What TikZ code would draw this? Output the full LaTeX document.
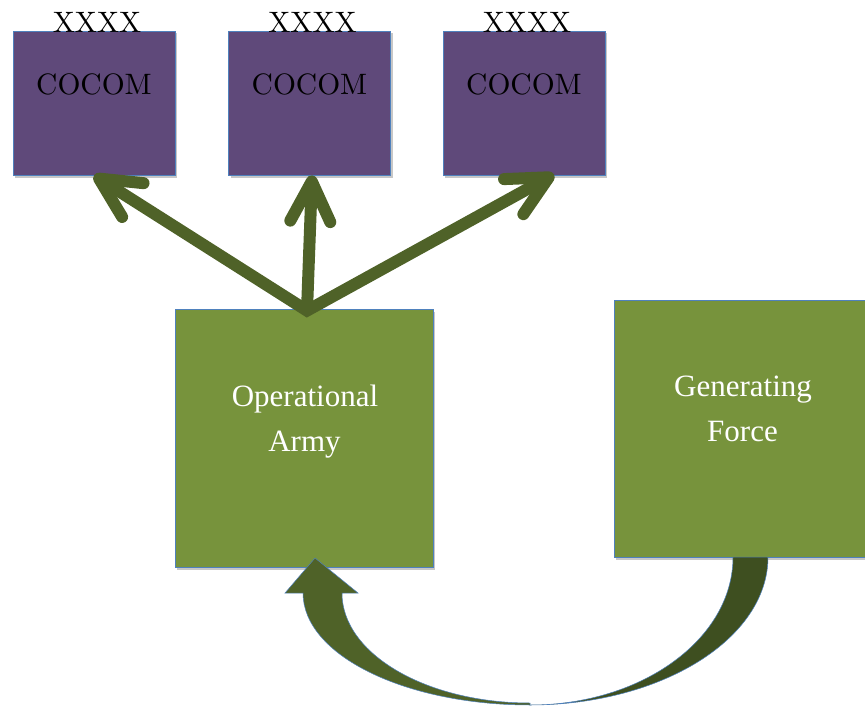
\documentclass[tikz,border=0pt]{standalone}
\usepackage{fontspec}
\newfontfamily\timesfont{Liberation Serif}
\newfontfamily\lmtenfont{lmroman10-regular.otf}
\usetikzlibrary{arrows.meta,calc,shadows}

\definecolor{cocompurple}{HTML}{5F497A}
\definecolor{boxgreen}{HTML}{77933C}
\definecolor{armgreen}{HTML}{4F6228}
\definecolor{backgreen}{HTML}{3E4F20}
\definecolor{edgeblue}{HTML}{4F81BD}

\tikzset{
  boxshadow/.style={drop shadow={shadow xshift=2pt, shadow yshift=-2.5pt, opacity=0.22, fill=black}},
  cocom/.style={rectangle, fill=cocompurple, draw=edgeblue, line width=0.8pt,
    minimum width=162pt, minimum height=144pt, inner sep=0pt, boxshadow},
  forcebox/.style={rectangle, fill=boxgreen, draw=edgeblue, line width=0.8pt,
    minimum height=258pt, inner sep=0pt, boxshadow},
  darktext/.style={font=\lmtenfont\fontsize{29.5}{35}\selectfont, text=black, inner sep=0pt, anchor=base},
  lighttext/.style={font=\timesfont\fontsize{31}{45}\selectfont, text=white, inner sep=0pt, anchor=base},
  barb/.tip={Straight Barb[length=40pt, width=40pt, round]},
  bigarrow/.style={draw=armgreen, line width=12pt, line join=miter},
}

\begin{document}
\begin{tikzpicture}[x=1pt, y=-1pt]
\useasboundingbox (0,0) rectangle (865,709);

% the three combatant commands
\node[cocom] (c1) at (94,103) {};
\node[cocom] (c2) at (309.5,103) {};
\node[cocom] (c3) at (524,103) {};
\foreach \c in {c1,c2,c3}{
  \node[darktext] (\c-x) at ($(\c.north)+(3,2)$) {XXXX};
  \node[darktext] (\c-t) at ($(\c.north)+(0,64)$) {COCOM};
}

% operational army and generating force
\node[forcebox, minimum width=258pt] (oa) at (304,438) {};
\node[lighttext] (oa1) at ($(oa.north)+(1,98)$) {Operational};
\node[lighttext] (oa2) at ($(oa.north)+(0.5,143)$) {Army};

\node[forcebox, minimum width=260pt, minimum height=257pt] (gf) at (744,428.5) {};
\node[lighttext] (gf1) at ($(gf.north)+(-1,97)$) {Generating};
\node[lighttext] (gf2) at ($(gf.north)+(-1.5,142)$) {Force};

% fan of arrows from the operational army to the commands
\coordinate (apex) at ($(oa.north)+(3,2)$);
\coordinate (c3tip) at ($(c3.south)+(30,-1)$);
\draw[bigarrow, barb-barb] (c1.south) -- (apex) -- (c3tip);
\draw[bigarrow, -barb] (apex) -- ($(c2.south)+(2.5,0)$);

% curved return arrow from the generating force back to the army
\fill[backgreen, draw=edgeblue, line width=0.5pt]
  (768,557) .. controls (768,638.7) and (661.4,705) .. (530,705)
  .. controls (642.1,705) and (733,638.7) .. (733,557) -- cycle;
\fill[armgreen, draw=edgeblue, line width=0.5pt]
  (530,705) .. controls (404.6,705) and (303,654.9) .. (303,593)
  -- (285,593) -- (315,558) -- (358,593) -- (342,593)
  .. controls (342,653.8) and (426.2,703) .. (530,703) -- cycle;
\end{tikzpicture}
\end{document}
